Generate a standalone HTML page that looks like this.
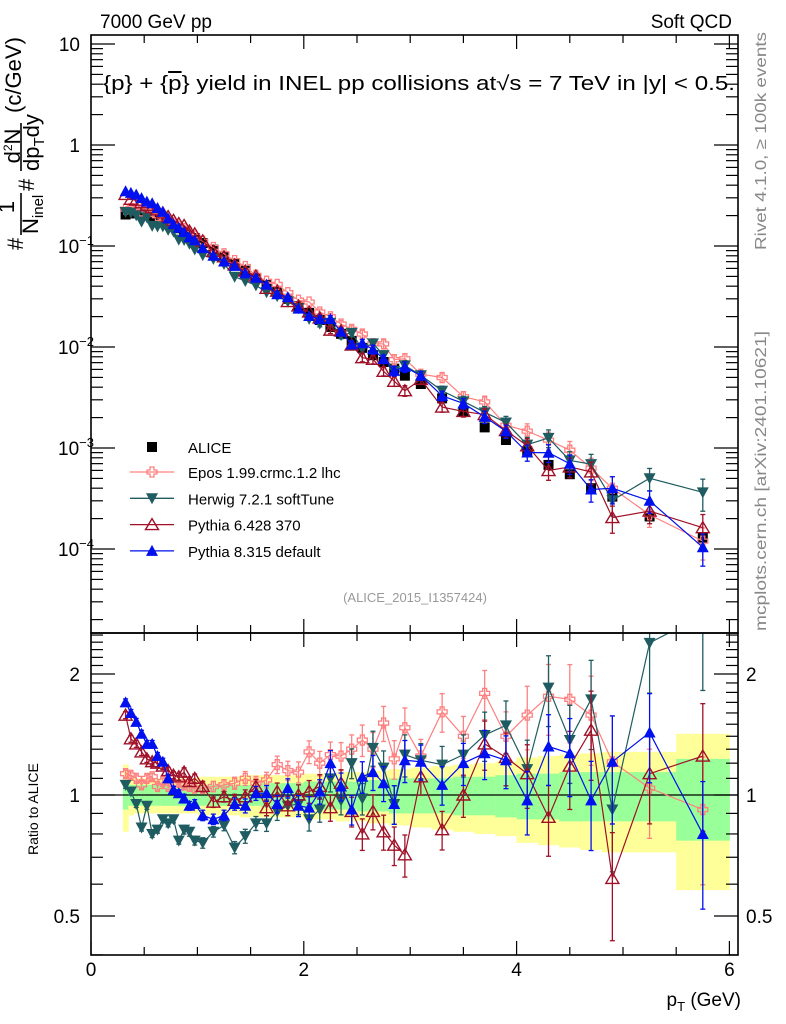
<!DOCTYPE html>
<html><head><meta charset="utf-8"><style>
html,body{margin:0;padding:0;background:#fff}
svg{display:block;font-family:"Liberation Sans",Arial,sans-serif}
</style></head><body>
<svg id="c" width="786" height="1024" viewBox="0 0 786 1024" xmlns="http://www.w3.org/2000/svg">
<defs>
<clipPath id="clipMain"><rect x="91" y="35" width="647" height="598"/></clipPath>
<clipPath id="clipRatio"><rect x="91" y="633" width="647" height="322"/></clipPath>
</defs>
<g id="bands" clip-path="url(#clipRatio)"></g>
<g id="ratio" clip-path="url(#clipRatio)"></g>
<g id="main" clip-path="url(#clipMain)"></g>
<g id="axes"></g>
<text x="100" y="28" font-size="19">7000 GeV pp</text>
<text x="732" y="28" font-size="19" text-anchor="end">Soft QCD</text>
<text x="103" y="90" font-size="20" textLength="632" lengthAdjust="spacingAndGlyphs">{p} + {<tspan text-decoration="overline">p</tspan>} yield in INEL pp collisions at√s =  7 TeV in |y| &lt; 0.5.</text>
<text x="415" y="602" font-size="13" fill="#999" text-anchor="middle">(ALICE_2015_I1357424)</text>
<text transform="translate(766,250) rotate(-90)" font-size="16" fill="#888" textLength="218" lengthAdjust="spacingAndGlyphs">Rivet 4.1.0, ≥ 100k events</text>
<text transform="translate(766,631) rotate(-90)" font-size="16" fill="#888" textLength="300" lengthAdjust="spacingAndGlyphs">mcplots.cern.ch [arXiv:2401.10621]</text>
<g font-size="22">
<text transform="translate(23,250) rotate(-90)">#</text>
<text transform="translate(14,207) rotate(-90)" text-anchor="middle">1</text>
<line x1="21" y1="235" x2="21" y2="193" stroke="#000" stroke-width="1.6"/>
<text transform="translate(38,234) rotate(-90)">N<tspan font-size="15" dy="5">inel</tspan></text>
<text transform="translate(34,191) rotate(-90)">#</text>
<text transform="translate(20,146) rotate(-90)" text-anchor="middle">d<tspan font-size="12" dy="-8">2</tspan><tspan dy="8">N</tspan></text>
<line x1="21" y1="171" x2="21" y2="123" stroke="#000" stroke-width="1.6"/>
<text transform="translate(39,171) rotate(-90)">dp<tspan font-size="15" dy="5">T</tspan><tspan dy="-5">dy</tspan></text>
<text transform="translate(21,113) rotate(-90)" textLength="76" lengthAdjust="spacingAndGlyphs">(c/GeV)</text>
</g>
<text transform="translate(38,855) rotate(-90)" font-size="14">Ratio to ALICE</text>
<text x="741" y="1006" font-size="19" text-anchor="end">p<tspan font-size="13" dy="5">T</tspan><tspan dy="-5"> (GeV)</tspan></text>
<g id="legend"></g>
</svg>
<script>
// bin edges (GeV)
const edges=[0.3,0.35,0.4,0.45,0.5,0.55,0.6,0.65,0.7,0.75,0.8,0.85,0.9,0.95,1.0,1.1,1.2,1.3,1.4,1.5,1.6,1.7,1.8,1.9,2.0,2.1,2.2,2.3,2.4,2.5,2.6,2.7,2.8,2.9,3.0,3.2,3.4,3.6,3.8,4.0,4.2,4.4,4.6,4.8,5.0,5.5,6.0];
const alice=[0.205,0.21,0.212,0.21,0.205,0.198,0.19,0.18,0.17,0.16,0.15,0.14,0.13,0.12,0.107,0.092,0.079,0.067,0.057,0.048,0.041,0.035,0.030,0.0255,0.0218,0.0185,0.0158,0.0135,0.0115,0.0098,0.0083,0.0071,0.0061,0.0052,0.0043,0.0031,0.0023,0.0016,0.0012,0.00093,0.00068,0.00055,0.00040,0.00033,0.00021,0.00013];
const errTotal=[0.19,0.11,0.1,0.1,0.1,0.1,0.1,0.1,0.1,0.1,0.1,0.1,0.1,0.1,0.11,0.11,0.11,0.11,0.12,0.12,0.12,0.12,0.12,0.12,0.13,0.13,0.13,0.14,0.14,0.14,0.15,0.15,0.16,0.16,0.17,0.18,0.19,0.2,0.21,0.24,0.25,0.26,0.27,0.28,0.28,0.42];
const errStat=[0.08,0.06,0.06,0.06,0.06,0.06,0.06,0.06,0.06,0.06,0.06,0.06,0.06,0.06,0.06,0.06,0.06,0.06,0.06,0.06,0.07,0.07,0.07,0.07,0.08,0.08,0.08,0.08,0.08,0.09,0.09,0.09,0.1,0.1,0.1,0.1,0.11,0.11,0.12,0.13,0.13,0.14,0.14,0.14,0.14,0.23];
const rEpos=[1.13,1.12,1.10,1.06,1.10,1.11,1.05,1.08,1.05,1.06,1.04,1.06,1.05,1.04,1.04,1.05,1.06,1.07,1.10,1.07,1.09,1.19,1.15,1.14,1.28,1.20,1.26,1.25,1.30,1.37,1.30,1.51,1.23,1.47,1.25,1.61,1.40,1.79,1.40,1.58,1.76,1.73,1.58,1.21,1.04,0.92];
const rHerwig=[1.06,1.02,0.95,0.83,0.94,0.80,0.82,0.87,0.85,0.87,0.77,0.82,0.81,0.77,0.76,0.81,0.84,0.74,0.79,0.85,0.85,0.91,0.94,0.95,0.87,0.92,1.10,0.97,1.20,0.98,1.31,1.17,0.95,1.26,1.22,1.19,1.26,1.41,1.49,1.16,1.85,1.37,1.73,0.92,2.39,2.8];
const rPy6=[1.58,1.38,1.34,1.28,1.23,1.21,1.20,1.18,1.15,1.12,1.11,1.14,1.08,1.10,1.05,0.96,0.99,0.97,0.99,1.05,0.93,1.02,0.94,1.0,1.02,1.05,0.93,1.07,0.91,0.80,0.91,0.81,0.75,0.71,1.11,0.82,1.0,1.34,1.24,1.13,0.88,1.18,1.45,0.62,1.13,1.25];
const rPy8=[1.70,1.60,1.52,1.42,1.34,1.34,1.25,1.21,1.10,1.03,1.01,0.98,0.94,0.95,0.89,0.87,0.89,0.95,0.94,1.01,1.01,0.95,1.04,0.94,0.93,1.02,1.20,1.05,0.92,1.11,1.14,1.07,0.95,1.22,1.21,1.06,1.20,1.27,1.22,0.97,1.32,1.27,0.97,1.21,1.43,0.80];
const mcErr=[0.02,0.02,0.02,0.02,0.02,0.02,0.02,0.02,0.02,0.02,0.02,0.025,0.025,0.025,0.03,0.03,0.03,0.035,0.04,0.04,0.045,0.05,0.055,0.06,0.065,0.07,0.075,0.08,0.085,0.09,0.1,0.1,0.11,0.12,0.1,0.11,0.12,0.14,0.15,0.18,0.2,0.22,0.25,0.3,0.25,0.35];
const yTickLabels=["10","1","10","10","10","10"];
const yTickExps=["","","−1","−2","−3","−4"];
const xTickLabels=["0","2","4","6"];
const ratioTickLabels=["2","1","0.5"];

const NS="http://www.w3.org/2000/svg";
function X(p){return 91+106.4*p;}
function Y(v){return 246-101*(Math.log10(v)+1);}
function R(r){return 795-121*Math.log2(r);}
function el(tag,attrs,parent){const e=document.createElementNS(NS,tag);for(const k in attrs)e.setAttribute(k,attrs[k]);parent.appendChild(e);return e;}
const centers=[];for(let i=0;i<edges.length-1;i++)centers.push((edges[i]+edges[i+1])/2);

const gb=document.getElementById('bands');
for(let i=0;i<centers.length;i++){
  const x0=X(edges[i]),x1=X(edges[i+1]);
  const y=el('rect',{x:x0,y:R(1+errTotal[i]),width:x1-x0+0.5,height:R(1-errTotal[i])-R(1+errTotal[i]),fill:'#ffff99'},gb);
  
  
  const g=el('rect',{x:x0,y:R(1+errStat[i]),width:x1-x0+0.5,height:R(1-errStat[i])-R(1+errStat[i]),fill:'#99ff99'},gb);
  
  
}
el('line',{x1:91,x2:738,y1:R(1),y2:R(1),stroke:'#000','stroke-width':1.3},gb);

function marker(kind,color,x,y,parent){
  let m;
  if(kind==='square'){m=el('rect',{x:x-5,y:y-5,width:10,height:10,fill:color},parent);}
  else if(kind==='up'){m=el('path',{d:`M${x},${y-6}L${x+6},${y+5}L${x-6},${y+5}Z`,fill:color},parent);}
  else if(kind==='upOpen'){m=el('path',{d:`M${x},${y-6}L${x+6.5},${y+5}L${x-6.5},${y+5}Z`,fill:'none',stroke:color,'stroke-width':1.4},parent);}
  else if(kind==='down'){m=el('path',{d:`M${x},${y+6}L${x+6},${y-5}L${x-6},${y-5}Z`,fill:color},parent);}
  else if(kind==='cross'){m=el('path',{d:`M${x-2},${y-5}h4v3h3v4h-3v3h-4v-3h-3v-4h3Z`,fill:'none',stroke:color,'stroke-width':1.3},parent);}
  return m;
}
const series=[
  {name:'Epos 1.99.crmc.1.2 lhc',r:rEpos,color:'#ff8080',kind:'cross',id:'epos'},
  {name:'Herwig 7.2.1 softTune',r:rHerwig,color:'#1f5c61',kind:'down',id:'herwig'},
  {name:'Pythia 6.428 370',r:rPy6,color:'#a01028',kind:'upOpen',id:'pythia6'},
  {name:'Pythia 8.315 default',r:rPy8,color:'#0010ee',kind:'up',id:'pythia8'}
];
const gm=document.getElementById('main'),gr=document.getElementById('ratio');
for(let i=0;i<centers.length;i++){
  const m=marker('square','#000',X(centers[i]),Y(alice[i]),gm);
  
  
}
for(const s of series){
  const gM=el('g',{},gm);
  const gR=el('g',{},gr);
  let dM='',dR='';
  for(let i=0;i<centers.length;i++){
    const x=X(centers[i]),v=alice[i]*s.r[i];
    dM+=(i?'L':'M')+x+','+Y(v);dR+=(i?'L':'M')+x+','+R(s.r[i]);
  }
  el('path',{d:dM,fill:'none',stroke:s.color,'stroke-width':1.2},gM);
  el('path',{d:dR,fill:'none',stroke:s.color,'stroke-width':1.2},gR);
  for(let i=0;i<centers.length;i++){
    const x=X(centers[i]),v=alice[i]*s.r[i],e=mcErr[i];
    const pairs=[[gM,Y(v*(1+e)),Y(Math.max(v*(1-e),1e-9))],[gR,R(s.r[i]*(1+e)),R(s.r[i]*(1-e))]];
    for(const [g,y1,y2] of pairs){
      if(y2-y1>6){
        el('line',{x1:x,x2:x,y1:y1,y2:y2,stroke:s.color,'stroke-width':1.3},g);
        el('line',{x1:x-2.5,x2:x+2.5,y1:y1,y2:y1,stroke:s.color,'stroke-width':1.3},g);
        el('line',{x1:x-2.5,x2:x+2.5,y1:y2,y2:y2,stroke:s.color,'stroke-width':1.3},g);
      }
    }
    const m1=marker(s.kind,s.color,x,Y(v),gM);
    
    
    const m2=marker(s.kind,s.color,x,R(s.r[i]),gR);
    
    
  }
}
const ga=document.getElementById('axes');
el('rect',{x:91,y:35,width:647,height:598,fill:'none',stroke:'#000','stroke-width':1.6},ga);
el('rect',{x:91,y:633,width:647,height:322,fill:'none',stroke:'#000','stroke-width':1.6},ga);
for(let k=0;k<=12;k++){
  const p=k*0.5,x=X(p);if(x>738)break;
  const L=(k%4===0)?14:8;
  for(const [yt,dir] of [[35,1],[633,-1],[633,1],[955,-1]]){
    el('line',{x1:x,x2:x,y1:yt,y2:yt+dir*L,stroke:'#000','stroke-width':1.2},ga);
  }
}
xTickLabels.forEach((t,i)=>{
  const tx=el('text',{x:X(i*2),y:976,'font-size':19,'text-anchor':'middle'},ga);tx.textContent=t;
  
  
});
for(let d=1;d>=-5;d--){
  for(let m=1;m<10;m++){
    const v=m*Math.pow(10,d),y=Y(v);if(y<35||y>633)continue;
    const L=m===1?24:12;
    el('line',{x1:91,x2:91+L,y1:y,y2:y,stroke:'#000','stroke-width':1.2},ga);
    el('line',{x1:738,x2:738-L,y1:y,y2:y,stroke:'#000','stroke-width':1.2},ga);
  }
}
yTickLabels.forEach((t,i)=>{
  const y=Y(Math.pow(10,1-i));
  const tx=el('text',{x:i<2?80:58,y:y+7,'font-size':19,'text-anchor':i<2?'end':'start'},ga);
  tx.textContent=t;
  if(yTickExps[i]){const ts=el('tspan',{'font-size':13,dy:-8},tx);ts.textContent=yTickExps[i];}
  
  
});
const rt=[0.4,0.5,0.6,0.7,0.8,0.9,1,1.1,1.2,1.3,1.4,1.5,1.6,1.7,1.8,1.9,2,2.1,2.2,2.3,2.4,2.5];
for(const r of rt){
  const y=R(r);if(y<633||y>955)continue;
  const L=(r===0.5||r===1||r===2)?24:12;
  el('line',{x1:91,x2:91+L,y1:y,y2:y,stroke:'#000','stroke-width':1.2},ga);
  el('line',{x1:738,x2:738-L,y1:y,y2:y,stroke:'#000','stroke-width':1.2},ga);
}
[2,1,0.5].forEach((r,i)=>{
  const a=el('text',{x:80,y:R(r)+7,'font-size':19,'text-anchor':'end'},ga);a.textContent=ratioTickLabels[i];
  
  
  const b=el('text',{x:746,y:R(r)+7,'font-size':19},ga);b.textContent=ratioTickLabels[i];
  
  
});
const gl=document.getElementById('legend');
const e0=el('g',{},gl);


marker('square','#000',152,447,e0);
const t0=el('text',{x:188,y:453,'font-size':15},e0);t0.textContent='ALICE';
series.forEach((s,i)=>{
  const y=472+i*26.3;
  const g=el('g',{},gl);
  
  
  el('line',{x1:130,x2:174,y1:y,y2:y,stroke:s.color,'stroke-width':1.3},g);
  marker(s.kind,s.color,152,y,g);
  const t=el('text',{x:188,y:y+6,'font-size':15},g);t.textContent=s.name;
});
</script>
</body></html>
